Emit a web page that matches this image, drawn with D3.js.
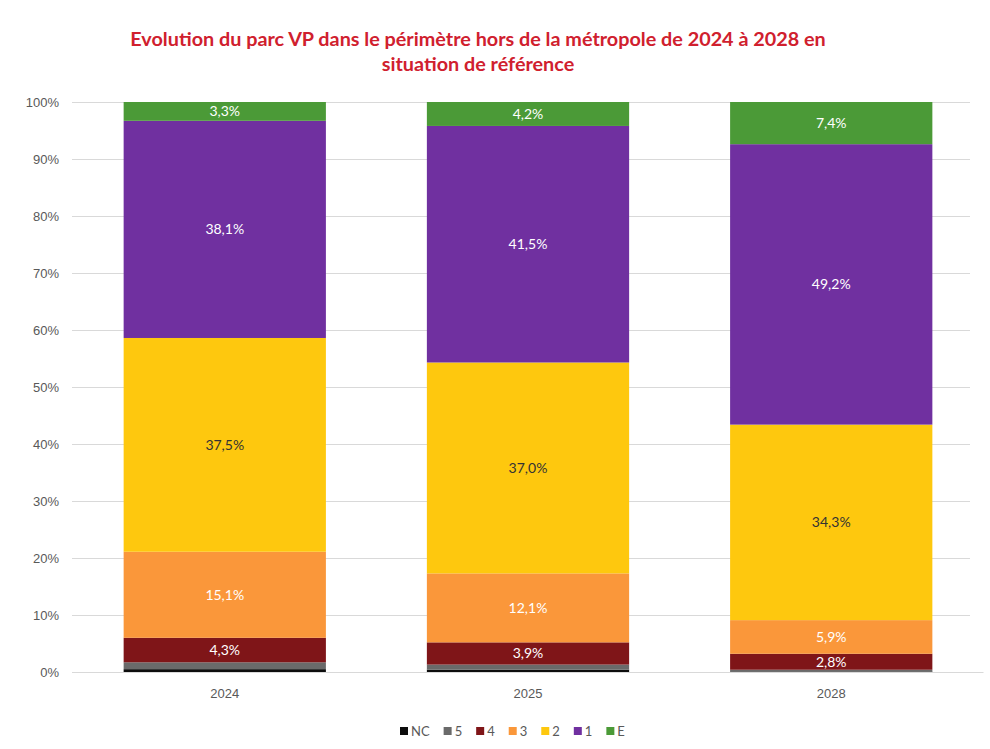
<!DOCTYPE html>
<html>
<head>
<meta charset="utf-8">
<script src="https://cdn.jsdelivr.net/npm/d3@7"></script>
<style>
  body { margin: 0; background: #fff; }
  svg { font-family: Lato, "Open Sans", sans-serif; }
</style>
</head>
<body>
<div id="chart"></div>
<script>
// data
var years = ["2024", "2025", "2028"];
var categories = ["NC", "5", "4", "3", "2", "1", "E"];
var valNC = [0.5, 0.4, 0.1];
var val5  = [1.2, 0.9, 0.3];
var val4  = [4.3, 3.9, 2.8];
var val3  = [15.1, 12.1, 5.9];
var val2  = [37.5, 37.0, 34.3];
var val1  = [38.1, 41.5, 49.2];
var valE  = [3.3, 4.2, 7.4];
var yTicks = [0, 10, 20, 30, 40, 50, 60, 70, 80, 90, 100];

var colors = {"NC": "#0d0d0d", "5": "#6a6a6a", "4": "#7f1518", "3": "#fa973a", "2": "#fec80e", "1": "#7030a0", "E": "#4b9a37"};
var labelColor = {"4": "#fff", "3": "#fff", "2": "#333", "1": "#fff", "E": "#fff"};

var seriesVals = {"NC": valNC, "5": val5, "4": val4, "3": val3, "2": val2, "1": val1, "E": valE};
var rows = years.map(function(y, i) {
  var r = {year: y};
  categories.forEach(function(c) { r[c] = seriesVals[c][i]; });
  return r;
});

var W = 990, H = 749;

var svg = d3.select("#chart").append("svg")
  .attr("width", W).attr("height", H);

var x = d3.scaleBand().domain(years)
  .range([73, 983]).paddingInner(0.333).paddingOuter(0.167);
var y = d3.scaleLinear().domain([0, 100]).range([672, 102]);

// title
svg.append("text")
  .attr("x", 478).attr("y", 46)
  .attr("text-anchor", "middle")
  .attr("font-size", "19.8px").attr("font-weight", "bold")
  .attr("fill", "#d0202e")
  .text("Evolution du parc VP dans le périmètre hors de la métropole de 2024 à 2028 en");
svg.append("text")
  .attr("x", 478).attr("y", 71)
  .attr("text-anchor", "middle")
  .attr("font-size", "19.8px").attr("font-weight", "bold")
  .attr("fill", "#d0202e")
  .text("situation de référence");

// grid + y axis
var yAxis = d3.axisLeft(y).tickValues(yTicks)
  .tickSize(-(970 - 72))
  .tickFormat(function(d) { return d + "%"; });
var gy = svg.append("g").attr("transform", "translate(72,0)").call(yAxis);
gy.select(".domain").remove();
gy.selectAll("line").attr("stroke", "#d9d9d9");
gy.selectAll("text").attr("x", -13).attr("fill", "#595959").attr("font-size", "13px");

// stacked bars
var stack = d3.stack().keys(categories);
var layers = stack(rows);

var groups = svg.append("g").selectAll("g")
  .data(layers).enter().append("g")
  .attr("fill", function(d) { return colors[d.key]; });

groups.selectAll("rect")
  .data(function(d) { return d; })
  .enter().append("rect")
  .attr("x", function(d) { return x(d.data.year); })
  .attr("width", x.bandwidth())
  .attr("y", function(d) { return y(d[1]); })
  .attr("height", function(d) { return y(d[0]) - y(d[1]); });

// labels
layers.forEach(function(layer) {
  if (!labelColor[layer.key]) return;
  svg.append("g").selectAll("text")
    .data(layer).enter().append("text")
    .attr("x", function(d) { return x(d.data.year) + x.bandwidth() / 2; })
    .attr("y", function(d) { return (y(d[0]) + y(d[1])) / 2 + 5; })
    .attr("text-anchor", "middle")
    .attr("font-size", "14px")
    .attr("fill", labelColor[layer.key])
    .text(function(d) { return (d[1] - d[0]).toFixed(1).replace(".", ",") + "%"; });
});

// x axis
var gx = svg.append("g").attr("transform", "translate(0,672)")
  .call(d3.axisBottom(x).tickSize(0));
gx.select(".domain").attr("stroke", "#d9d9d9");
gx.selectAll("text").attr("dy", "1.75em").attr("fill", "#595959").attr("font-size", "13px");

// legend
var legend = svg.append("g").attr("transform", "translate(400,731)");
var lx = 0;
categories.forEach(function(c) {
  var item = legend.append("g").attr("transform", "translate(" + lx + ",0)");
  item.append("rect").attr("x", 0).attr("y", -4).attr("width", 8).attr("height", 8)
    .attr("fill", colors[c]);
  var t = item.append("text").attr("x", 11).attr("y", 5)
    .attr("font-size", "13px").attr("fill", "#595959").text(c);
  lx += 11 + t.node().getComputedTextLength() + 14;
});
</script>
</body>
</html>
